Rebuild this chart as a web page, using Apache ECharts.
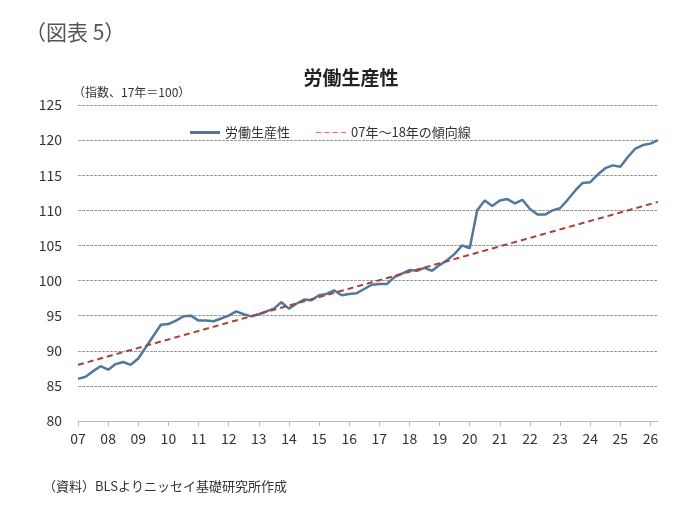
<!DOCTYPE html>
<html>
<head>
<meta charset="utf-8">
<script src="https://cdn.jsdelivr.net/npm/echarts@6/dist/echarts.min.js"></script>
<style>
html,body{margin:0;padding:0;background:#fff;}
#c{width:680px;height:519px;}
</style>
</head>
<body>
<div id="c"></div>
<script>
// Year tick labels (two-digit), quarterly data from 07Q1
var yearLabels = ['07','08','09','10','11','12','13','14','15','16','17','18','19','20','21','22','23','24','25','26'];
var quarterNames = ['Q1','Q2','Q3','Q4'];
// Labour productivity index (2017=100), quarterly
var productivity = [
  86.0, 86.3, 87.1, 87.8,
  87.3, 88.1, 88.4, 88.0,
  88.9, 90.5, 92.1, 93.7,
  93.8, 94.3, 94.9, 95.0,
  94.3, 94.3, 94.2, 94.6,
  95.0, 95.6, 95.2, 94.9,
  95.2, 95.6, 96.0, 96.9,
  96.0, 96.7, 97.3, 97.2,
  97.9, 98.1, 98.6, 97.9,
  98.1, 98.2, 98.8, 99.4,
  99.5, 99.5, 100.5, 101.0,
  101.5, 101.4, 101.8, 101.4,
  102.2, 102.9, 103.8, 105.0,
  104.6, 110.0, 111.4, 110.6,
  111.4, 111.6, 111.0, 111.5,
  110.2, 109.4, 109.4, 110.0,
  110.3, 111.5, 112.8, 113.9,
  114.0, 115.1, 116.0, 116.4,
  116.2, 117.6, 118.8, 119.3,
  119.5, 120.0
];
// 07-18 trend line endpoints
var trendStart = 88.0;
var trendEnd = 111.2;

var categories = [];
for (var i = 0; i < productivity.length; i++) {
  categories.push(yearLabels[Math.floor(i / 4)] + quarterNames[i % 4]);
}
var trend = productivity.map(function (v, i) {
  if (i === 0) return trendStart;
  if (i === productivity.length - 1) return trendEnd;
  return null;
});

var chart = echarts.init(document.getElementById('c'));
var font = '"Noto Sans CJK JP", "Noto Sans", sans-serif';
var lineColor = '#52779e';
var trendColor = '#a8403c';
chart.setOption({
  backgroundColor: '#ffffff',
  animation: false,
  textStyle: { fontFamily: font },
  title: [
    { text: '（図表 5）', left: 20, top: 17,
      textStyle: { fontSize: 21, fontWeight: 'normal', color: '#555', fontFamily: font } },
    { text: '労働生産性', left: 346, top: 63, textAlign: 'center',
      textStyle: { fontSize: 19, fontWeight: 'bold', color: '#222', fontFamily: font } },
    { text: '（指数、17年＝100）', left: 68, top: 81,
      textStyle: { fontSize: 12, fontWeight: 'normal', color: '#333', fontFamily: font } },
    { text: '（資料）BLSよりニッセイ基礎研究所作成', left: 38, top: 475,
      textStyle: { fontSize: 13, fontWeight: 'normal', color: '#333', fontFamily: font } }
  ],
  legend: {
    top: 121, left: 185,
    itemWidth: 30, itemHeight: 3, itemGap: 26,
    textStyle: { fontSize: 13, color: '#333', fontFamily: font },
    data: [
      { name: '労働生産性', icon: 'rect' },
      { name: '07年～18年の傾向線', icon: 'path://M0,0h5v1h-5z M8,0h5v1h-5z M16,0h5v1h-5z M24,0h5v1h-5z' }
    ]
  },
  grid: { left: 78, right: 22, top: 105, bottom: 98, containLabel: false },
  xAxis: {
    type: 'category',
    data: categories,
    boundaryGap: false,
    axisLine: { show: true, lineStyle: { color: '#bbb', width: 1 } },
    axisTick: { show: true, length: 5, lineStyle: { color: '#bbb' },
      interval: function (idx) { return idx % 4 === 0; } },
    axisLabel: {
      interval: function (idx) { return idx % 4 === 0; },
      formatter: function (v) { return v.slice(0, 2); },
      fontSize: 14, color: '#333', margin: 11, fontFamily: font
    },
    splitLine: { show: false }
  },
  yAxis: {
    type: 'value',
    min: 80, max: 125, interval: 5,
    axisLine: { show: false },
    axisTick: { show: false },
    axisLabel: { fontSize: 14, color: '#333', margin: 16, fontFamily: font },
    splitLine: { show: true, lineStyle: { color: '#9a9a9a', type: [3, 1], width: 1 } }
  },
  series: [
    {
      name: '労働生産性',
      type: 'line',
      data: productivity,
      symbol: 'none',
      smooth: false,
      lineStyle: { color: lineColor, width: 2.5 },
      itemStyle: { color: lineColor },
      z: 3
    },
    {
      name: '07年～18年の傾向線',
      type: 'line',
      data: trend,
      connectNulls: true,
      symbol: 'none',
      lineStyle: { color: trendColor, width: 2, type: [6, 4] },
      itemStyle: { color: '#d9707a' },
      z: 4
    }
  ]
});
</script>
</body>
</html>
